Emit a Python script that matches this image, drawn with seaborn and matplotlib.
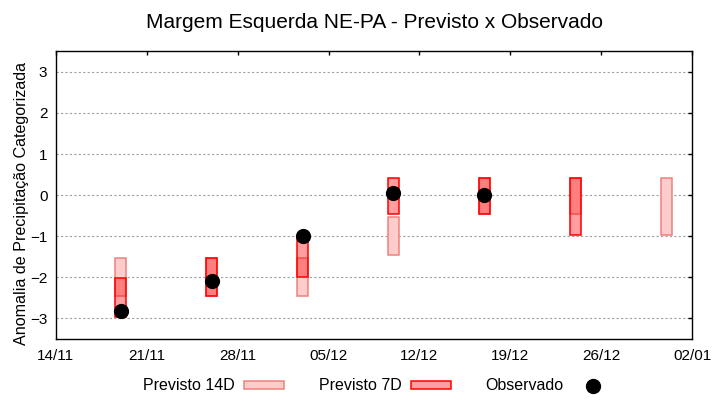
import pandas as pd
import matplotlib
matplotlib.use("Agg")
import matplotlib.pyplot as plt
import matplotlib.dates as mdates
from matplotlib.patches import Patch
from matplotlib.lines import Line2D
import seaborn as sns

# Previsto 14D (faixa inferior / superior)
datas_14d = ["2023-11-19", "2023-11-26", "2023-12-03", "2023-12-10",
             "2023-12-17", "2023-12-24", "2023-12-31"]
min_14d = [-2.46, -2.46, -2.46, -1.46, -0.47, -0.47, -0.98]
max_14d = [-1.54, -1.54, -1.54, -0.54, 0.41, 0.41, 0.41]

# Previsto 7D
datas_7d = ["2023-11-19", "2023-11-26", "2023-12-03", "2023-12-10",
            "2023-12-17", "2023-12-24"]
min_7d = [-2.97, -2.46, -2.00, -0.47, -0.47, -0.98]
max_7d = [-2.02, -1.54, -1.05, 0.41, 0.41, 0.41]

# Observado
datas_obs = ["2023-11-19", "2023-11-26", "2023-12-03", "2023-12-10", "2023-12-17"]
valores_obs = [-2.81, -2.10, -1.00, 0.04, 0.00]

sns.set_style("white")
plt.rcParams['font.family'] = ['Liberation Sans', 'DejaVu Sans']
plt.rcParams['text.color'] = 'black'
plt.rcParams['axes.labelcolor'] = 'black'

df14 = pd.DataFrame({"data": pd.to_datetime(datas_14d), "min": min_14d, "max": max_14d})
df7 = pd.DataFrame({"data": pd.to_datetime(datas_7d), "min": min_7d, "max": max_7d})
dfo = pd.DataFrame({"data": pd.to_datetime(datas_obs), "valor": valores_obs})

fig = plt.figure(figsize=(7.2, 4.0), dpi=100)
ax = fig.add_axes([0.0774, 0.1525, 0.8841, 0.7193])

cor_14_fill = "#ffcccc"
cor_14_edge = "#f08080"
cor_7_edge = "#ff0000"

ax.bar(df14["data"], df14["max"] - df14["min"], bottom=df14["min"], width=0.88,
       color=cor_14_fill, edgecolor=cor_14_edge, linewidth=1.1, zorder=2)
ax.bar(df7["data"], df7["max"] - df7["min"], bottom=df7["min"], width=0.88,
       facecolor=(1, 0, 0, 0.38), edgecolor=cor_7_edge, linewidth=1.1, zorder=3)
sns.scatterplot(data=dfo, x="data", y="valor", ax=ax, color="black", s=120,
                edgecolor="black", linewidth=0, zorder=4)

ax.set_xlim(pd.Timestamp("2023-11-14"), pd.Timestamp("2024-01-02"))
ax.set_ylim(-3.5, 3.5)
ax.set_xticks(pd.date_range("2023-11-14", "2024-01-02", freq="7D"))
ax.xaxis.set_major_formatter(mdates.DateFormatter("%d/%m"))
ax.set_yticks(range(-3, 4))

ax.grid(axis="y", color="#a0a0a0", linestyle=(0, (2, 2)), linewidth=0.8, zorder=1)
ax.grid(axis="x", visible=False)
ax.tick_params(direction="in", length=3, width=1, top=True, right=True,
               labelsize=11, colors="black", pad=6)
ax.tick_params(axis="x", pad=7)
for s in ax.spines.values():
    s.set_color("black")
    s.set_linewidth(1.0)

ax.set_xlabel("")
ax.set_ylabel("Anomalia de Precipitação Categorizada", fontsize=11.6)
ax.yaxis.set_label_coords(-0.042, 0.47)
ax.set_title("Margem Esquerda NE-PA - Previsto x Observado", fontsize=15, pad=17)

handles = [
    Patch(facecolor=cor_14_fill, edgecolor=cor_14_edge, linewidth=1.1),
    Patch(facecolor=(1, 0, 0, 0.38), edgecolor=cor_7_edge, linewidth=1.1),
    Line2D([], [], linestyle="none", marker="o", color="black", markersize=10),
]
fig.legend(handles, ["Previsto 14D", "Previsto 7D", "Observado"], loc="center",
           bbox_to_anchor=(0.525, 0.035), ncol=3, frameon=False, markerfirst=False,
           fontsize=11.5, handlelength=2.5, handleheight=0.45, handletextpad=0.55,
           columnspacing=2.2)

fig.savefig("out.png", dpi=100)
